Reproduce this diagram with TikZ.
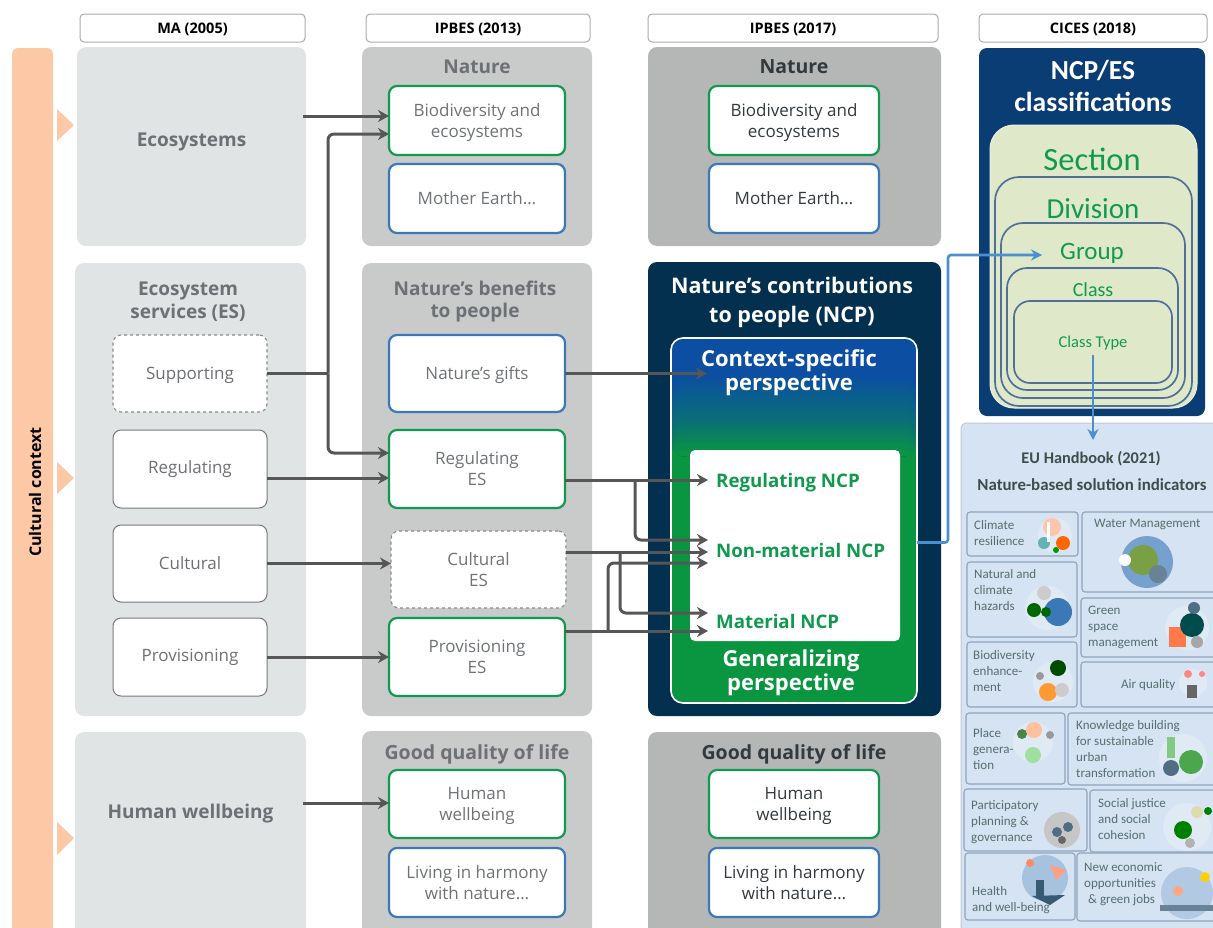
\documentclass[tikz,border=0pt]{standalone}
\usepackage{fontspec}
\setmainfont{Open Sans}
\newfontfamily\calb{Carlito}
\usetikzlibrary{arrows.meta,calc}
\definecolor{lgrey}{HTML}{E1E4E4}
\definecolor{mgrey}{HTML}{C9CBCB}
\definecolor{dgrey}{HTML}{B5B7B7}
\definecolor{txtA}{HTML}{6D7074}
\definecolor{txtB}{HTML}{6F7376}
\definecolor{txtC}{HTML}{333A3E}
\definecolor{gbord}{HTML}{119A4F}
\definecolor{bbord}{HTML}{3B78B8}
\definecolor{hbord}{HTML}{A9ACAE}
\definecolor{navy}{HTML}{03304F}
\definecolor{cnavy}{HTML}{0A3D73}
\definecolor{ngreen}{HTML}{0A9640}
\definecolor{nblue}{HTML}{0B4EA2}
\definecolor{nmid}{HTML}{0A6E78}
\definecolor{orng}{HTML}{FDC8A6}
\definecolor{sage}{HTML}{DFE8C9}
\definecolor{ring}{HTML}{4F7199}
\definecolor{eubg}{HTML}{D6E3F2}
\definecolor{eubd}{HTML}{8FA3BC}
\definecolor{eutx}{HTML}{566F6C}
\definecolor{arrowc}{HTML}{565656}
\definecolor{arrowb}{HTML}{4A8FD0}
\newcommand{\fsz}[1]{\pgfmathsetmacro{\lsk}{#1*1.23}\fontsize{#1}{\lsk}\selectfont}
\newcommand{\dn}[1]{\raisebox{-1.8pt}[\height][\depth]{#1}}
\newcommand{\bx}[7][]{%
  \pgfmathsetmacro{\bw}{#5-#3}\pgfmathsetmacro{\bh}{#6-#4}%
  \pgfmathsetmacro{\cx}{(#3+#5)/2}\pgfmathsetmacro{\cy}{(#4+#6)/2}%
  \node[boxbase,minimum width=\bw pt,minimum height=\bh pt,#1] (#2) at (\cx,\cy) {#7};}
\newcommand{\eub}[8]{%
  \bx[eubox]{#1}{#2}{#3}{#4}{#5}{}%
  \node[eutext] (#1t) at (#6,#7) {#8};}
\newcommand{\blob}[4]{\fill[#4] (#1,#2) circle[radius=#3];}
\newcommand{\band}[2]{\fill[#2] ([yshift=-#1pt]path picture bounding box.north west) rectangle ([yshift=-118pt]path picture bounding box.north east);}
\tikzset{
  boxbase/.style={inner sep=0pt,outer sep=0pt,align=center,rounded corners=7pt},
  panelA/.style={fill=lgrey,rounded corners=9pt},
  panelB/.style={fill=mgrey,rounded corners=9pt},
  panelC/.style={fill=dgrey,rounded corners=9pt},
  hdr/.style={draw=hbord,line width=1pt,fill=white,rounded corners=4pt,font=\fsz{14.5}\bfseries,text=black},
  whiteA/.style={draw=hbord!70!black,line width=1pt,fill=white,rounded corners=8pt,font=\fsz{17},text=txtA},
  dashA/.style={draw=hbord!80!black,line width=1.1pt,dashed,fill=white,rounded corners=8pt,font=\fsz{17},text=txtA},
  greenB/.style={draw=gbord,line width=2.2pt,fill=white,rounded corners=8pt,font=\fsz{17},text=txtB},
  blueB/.style={draw=bbord,line width=2.2pt,fill=white,rounded corners=8pt,font=\fsz{17},text=txtB},
  greenC/.style={greenB,text=txtC},
  blueC/.style={blueB,text=txtC},
  headA/.style={inner sep=0pt,align=center,font=\fsz{19}\bfseries,text=txtA},
  headC/.style={inner sep=0pt,align=center,font=\fsz{19.5}\bfseries,text=txtC},
  headW/.style={inner sep=0pt,align=center,font=\fsz{21.5}\bfseries,text=white},
  headX/.style={inner sep=0pt,align=center,font=\fsz{22}\bfseries,text=white},
  ncplab/.style={inner sep=0pt,anchor=west,font=\fsz{18.7}\bfseries,text=gbord},
  ringbox/.style={draw=ring,line width=1.7pt,fill=sage,rounded corners=15pt},
  cics/.style={inner sep=0pt,text=gbord},
  eubox/.style={draw=eubd,line width=1.1pt,fill=eubg,rounded corners=3pt},
  eutext/.style={inner sep=0pt,anchor=west,align=left,font=\calb\fsz{13},text=eutx},
  conn/.style={draw=arrowc,line width=3pt,rounded corners=6pt,-{Stealth[length=11pt,width=12pt]}},
  connl/.style={draw=arrowc,line width=3pt},
  connb/.style={draw=arrowb,line width=2.6pt,rounded corners=3pt,-{Stealth[length=11pt,width=11pt]}},
}
\begin{document}
\begin{tikzpicture}[x=1pt,y=-1pt]
\useasboundingbox (0,0) rectangle (1213,927);
\begin{scope}
\clip (0,0) rectangle (1213,927);
% headers
\bx[hdr]{h1}{80}{14}{305}{42}{\dn{MA (2005)}}
\bx[hdr]{h2}{366}{14}{590}{42}{\dn{IPBES (2013)}}
\bx[hdr]{h3}{648}{14}{938}{42}{\dn{IPBES (2017)}}
\bx[hdr]{h4}{979}{14}{1207}{42}{\dn{CICES (2018)}}
% cultural bar
\bx[fill=orng,rounded corners=6pt]{cbar}{12}{48}{53}{940}{}
\node[inner sep=0pt,rotate=90,font=\fsz{16}\bfseries,text=black] (ctx) at (35,492) {Cultural context};
\fill[orng] (57,109) -- (74,125) -- (57,141) -- cycle;
\fill[orng] (57,462) -- (74,478) -- (57,494) -- cycle;
\fill[orng] (57,822) -- (74,838) -- (57,855) -- cycle;
% column 1
\bx[panelA,font=\fsz{19}\bfseries,text=txtA]{eco}{77}{47}{306}{246}{\raisebox{13pt}{Ecosystems}}
\bx[panelA]{esp}{75}{263}{306}{716}{}
\bx[panelA,font=\fsz{19}\bfseries,text=txtA]{hw}{75}{732}{306}{940}{\raisebox{50pt}{Human wellbeing}}
\node[headA] (esh) at (188,300) {\dn{Ecosystem}\\[-1pt]\dn{services (ES)}};
\bx[dashA]{sup}{113}{335}{267}{412}{\dn{Supporting}}
\bx[whiteA]{reg}{113}{430}{267}{508}{Regulating}
\bx[whiteA]{cul}{113}{525}{267}{602}{Cultural}
\bx[whiteA]{pro}{113}{618}{267}{696}{Provisioning}
% column 2
\bx[panelB]{p2a}{362}{47}{592}{246}{}
\bx[panelB]{p2b}{362}{263}{592}{716}{}
\bx[panelB]{p2c}{362}{731}{592}{940}{}
\node[headA] (n2) at (477,67) {Nature};
\node[headA] (nb2) at (475,300) {\dn{Nature’s benefits}\\[-1pt]\dn{to people}};
\node[headA,font=\fsz{19.5}\bfseries] (gq2) at (477,753) {\dn{Good quality of life}};
\bx[greenB]{bio2}{389}{86}{565}{155}{\dn{Biodiversity and}\\\dn{ecosystems}}
\bx[blueB]{me2}{389}{164}{565}{233}{Mother Earth…}
\bx[blueB]{gif}{389}{335}{565}{412}{\dn{Nature’s gifts}}
\bx[greenB]{reg2}{389}{430}{565}{508}{Regulating\\ES}
\bx[dashA,text=txtB]{cul2}{391}{531}{566}{608}{Cultural\\ES}
\bx[greenB]{pro2}{389}{618}{565}{696}{Provisioning\\ES}
\bx[greenB]{hw2}{389}{770}{565}{838}{\dn{Human}\\\dn{wellbeing}}
\bx[blueB]{lh2}{389}{848}{565}{917}{Living in harmony\\with nature…}
% column 3
\bx[panelC]{p3a}{648}{47}{941}{246}{}
\bx[fill=navy,rounded corners=9pt]{ncpp}{648}{262}{941}{716}{}
\bx[panelC]{p3c}{648}{732}{941}{940}{}
\node[headC] (n3) at (794,67) {Nature};
\node[headC] (gq3) at (794,753) {\dn{Good quality of life}};
\bx[greenC]{bio3}{709}{86}{879}{155}{\dn{Biodiversity and}\\\dn{ecosystems}}
\bx[blueC]{me3}{709}{164}{879}{233}{Mother Earth…}
\bx[greenC]{hw3}{709}{770}{879}{838}{\dn{Human}\\\dn{wellbeing}}
\bx[blueC]{lh3}{709}{848}{879}{917}{Living in harmony\\with nature…}
\node[headW] (ncph) at (792,302.5) {Nature’s contributions\\[2pt]to people (NCP)};
\bx[draw=white,line width=1.6pt,fill=ngreen,rounded corners=12pt,
  path picture={\band{0}{nblue}%
    \foreach \t in {0,2,...,44}{\pgfmathsetmacro{\p}{100-\t*100/44}\pgfmathsetmacro{\yy}{36+\t}\band{\yy}{nblue!\p!nmid}}%
    \foreach \t in {0,2,...,36}{\pgfmathsetmacro{\p}{100-\t*100/36}\pgfmathsetmacro{\yy}{80+\t}\band{\yy}{nmid!\p!ngreen}}%
  }]{ncp}{671}{338}{917}{703}{}
\node[headX] (cs) at (789,372.5) {Context-specific\\[-3pt]perspective};
\node[headX] (gp) at (791,673) {Generalizing\\[-3pt]perspective};
\bx[fill=white,rounded corners=5pt]{inn}{690}{450}{900}{641}{}
\node[ncplab] (rn) at (716,482.5) {Regulating NCP};
\node[ncplab] (nn) at (716,550.5) {Non-material NCP};
\node[ncplab] (mn) at (716,621) {Material NCP};
% CICES
\bx[fill=cnavy,rounded corners=8pt]{cc}{979}{48}{1205}{416}{}
\node[inner sep=0pt,align=center,font=\calb\fsz{27.5}\bfseries,text=white] (ct) at (1093,86) {NCP/ES\\[-2pt]classifications};
\bx[fill=sage,draw=sage!60!white,line width=1pt,rounded corners=24pt]{s1}{990}{125}{1197}{408}{}
\bx[ringbox,rounded corners=24pt]{s2}{995}{177}{1192}{406}{}
\bx[ringbox,rounded corners=22pt]{s3}{1001}{223}{1185}{398}{}
\bx[ringbox,rounded corners=20pt]{s4}{1007}{268}{1178}{390}{}
\bx[ringbox,rounded corners=16pt]{s5}{1014}{301}{1172}{383}{}
\node[cics,font=\calb\fsz{32.5}] (l1) at (1092,159) {Section};
\node[cics,font=\calb\fsz{29}] (l2) at (1093,209) {Division};
\node[cics,font=\calb\fsz{25}] (l3) at (1092,253) {Group};
\node[cics,font=\calb\fsz{20}] (l4) at (1093,290) {Class};
\node[cics,font=\calb\fsz{16.5}] (l5) at (1093,343) {Class Type};
% EU
\bx[fill=eubg,draw=eubd!60!white,line width=1pt,rounded corners=5pt]{eu}{961}{423}{1230}{940}{}
\node[inner sep=0pt,font=\calb\fsz{16.3}\bfseries,text=eutx!70!black] (e1) at (1091,459) {EU Handbook (2021)};
\node[inner sep=0pt,font=\calb\fsz{16.9}\bfseries,text=eutx!70!black] (e2) at (1092,485) {Nature-based solution indicators};
\eub{a1}{967}{512}{1078}{556}{974}{533}{Climate\\resilience}
\eub{a2}{1082}{512}{1225}{592}{1094}{524}{Water Management}
\eub{a3}{967}{562}{1077}{637}{974}{590}{Natural and\\climate\\hazards}
\eub{a4}{1081}{598}{1225}{657}{1088}{627}{Green\\space\\management}
\eub{a5}{967}{642}{1077}{707}{973}{671}{Biodiversity\\enhance-\\ment}
\eub{a6}{1081}{662}{1225}{707}{1121}{685}{Air quality}
\eub{a7}{966}{713}{1065}{784}{973}{749}{Place\\genera-\\tion}
\eub{a8}{1068}{713}{1225}{785}{1076}{749}{Knowledge building\\for sustainable\\urban\\transformation}
\eub{a9}{964}{789}{1087}{851}{971}{822}{Participatory\\planning \&\\governance}
\eub{a10}{1090}{790}{1225}{852}{1098}{819}{Social justice\\and social\\cohesion}
\eub{a11}{965}{853}{1075}{920}{972}{900}{Health\\and well-being}
\eub{a12}{1077}{853}{1225}{921}{1084}{884}{New economic\\opportunities\\\hspace*{4pt}\& green jobs}
% icons
\blob{1055}{535}{17}{white!25!eubg}\blob{1052}{527}{9}{pink!70!orange!70}\blob{1063}{543}{7}{orange!80!red}\blob{1044}{543}{6}{teal!60}\blob{1056}{550}{3}{green!60!black}\fill[white] (1047,522) rectangle (1050,542);
\blob{1147}{562}{26}{bbord!70}\blob{1143}{560}{15}{yellow!50!green!70!black}\blob{1158}{574}{9}{navy!60}\blob{1125}{560}{6}{white}
\blob{1047}{608}{22}{white!25!eubg}\blob{1058}{612}{14}{bbord}\blob{1034}{610}{7}{green!40!black}\blob{1046}{612}{5}{green!40!black}\blob{1044}{593}{7}{gray!40}
\blob{1187}{628}{22}{white!25!eubg}\fill[red!50!orange!70] (1169,627) rectangle (1186,647);\blob{1192}{625}{12}{teal!60!black}\blob{1194}{608}{6}{navy!70}\blob{1197}{642}{6}{gray!70}
\blob{1053}{682}{20}{white!25!eubg}\blob{1058}{668}{8}{green!30!black}\blob{1048}{692}{9}{orange!80}\blob{1062}{690}{7}{gray!40}\blob{1040}{676}{4}{gray!80}
\blob{1193}{683}{14}{white!25!eubg}\blob{1188}{674}{4}{pink!70!red}\blob{1202}{674}{3}{pink!70!red}\fill[gray!80!black] (1187,685) rectangle (1197,698);
\blob{1033}{742}{20}{white!25!eubg}\blob{1034}{730}{8}{pink!60!orange!70}\blob{1022}{734}{5}{green!30!black!70}\blob{1033}{755}{8}{gray!50!green!50}\blob{1050}{735}{4}{gray!80}
\blob{1183}{758}{24}{white!25!eubg}\blob{1191}{762}{12}{green!50!black!70}\blob{1171}{768}{8}{navy!70}\fill[green!40!gray!70] (1167,737) rectangle (1175,758);
\blob{1062}{830}{18}{gray!45}\blob{1057}{832}{5}{navy!70}\blob{1068}{827}{5}{navy!70}\blob{1062}{840}{4}{gray!80!black}
\blob{1187}{827}{24}{white!25!eubg}\blob{1183}{830}{9}{green!50!black}\blob{1197}{812}{6}{yellow!40!gray!50}\blob{1208}{811}{4}{green!50!black}\blob{1190}{843}{5}{gray!60}
\blob{1045}{878}{23}{bbord!45}\blob{1030}{863}{4}{red!50!orange!60}\fill[red!50!orange!50] (1050,865) -- (1066,870) -- (1056,880) -- cycle;\fill[navy!80] (1036,880) rectangle (1044,896);\fill[navy!80] (1032,896) -- (1065,895) -- (1050,905) -- cycle;
\blob{1187}{893}{26}{bbord!40}\fill[navy!60] (1160,905) rectangle (1213,911);\blob{1205}{877}{5}{yellow!70!orange}\blob{1178}{891}{5}{red!40!orange!50}
% connectors
\coordinate (jsup) at (328,373.5);
\coordinate (bl) at (948,255);
\draw[conn] ([yshift=30.5pt,xshift=-3pt]eco.east) -- ([yshift=4.5pt]bio2.west);
\draw[conn] (jsup) |- ([yshift=-13.5pt]bio2.west);
\draw[conn] (jsup) |- ([yshift=16pt]reg2.west);
\draw[connl] (sup.east) -- (jsup);
\draw[conn] ([yshift=-9pt]reg.east) -- ([yshift=-9pt]reg2.west);
\draw[conn] (cul.east) -- (cul.east -| cul2.west);
\draw[conn] (pro.east) -- (pro2.west);
\draw[conn] ([yshift=33pt,xshift=-3pt]hw.east) -- ([yshift=1pt]hw2.west);
\draw[conn] (gif.east) -- ([xshift=6pt]cs.west |- gif.east);
\coordinate (j1) at (635,480);
\coordinate (j2) at (620,552);
\coordinate (j3) at (608,631);
\draw[conn] (reg2.east |- j1) -- ([xshift=-8pt]rn.west |- j1);
\draw[conn] (j1) |- ([xshift=-8pt,yshift=10.5pt]nn.west);
\draw[conn] (cul2.east |- j2) -- ([xshift=-8pt,yshift=-1.5pt]nn.west);
\draw[conn] (j2) |- ([xshift=-8pt,yshift=8pt]mn.west);
\draw[conn] (pro2.east |- j3) -- ([xshift=-8pt,yshift=-10pt]mn.west);
\draw[conn] (j3) |- ([xshift=-8pt,yshift=-12.5pt]nn.west);
\draw[connb] ([yshift=-22pt]ncp.east) -| (bl) -- ([xshift=-18pt]l3.west |- bl);
\draw[connb] ([yshift=-12pt]l5.center) -- ([yshift=-17pt]eu.north -| l5.center);
\end{scope}
\end{tikzpicture}
\end{document}
